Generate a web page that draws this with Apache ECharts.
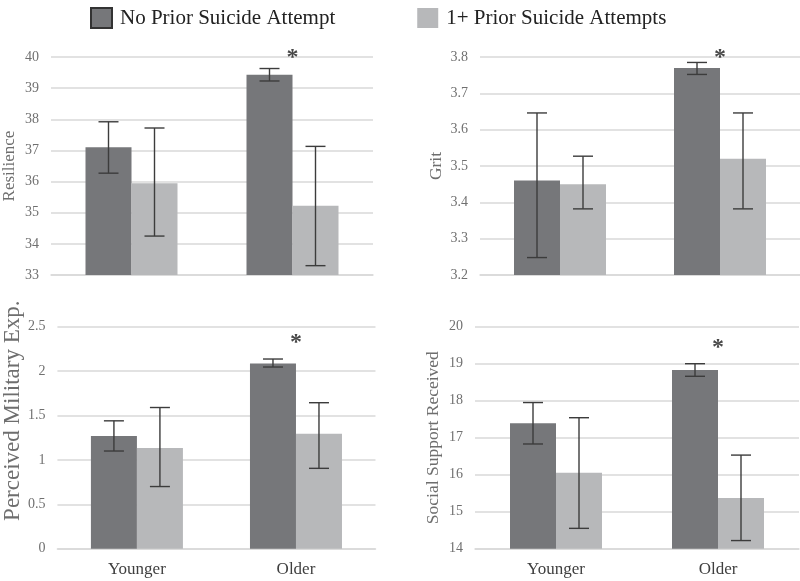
<!DOCTYPE html>
<html>
<head>
<meta charset="utf-8">
<script src="https://cdn.jsdelivr.net/npm/echarts@6/dist/echarts.min.js"></script>
<style>
html,body{margin:0;padding:0;background:#fff;}
#chart{width:800px;height:581px;}
</style>
</head>
<body>
<div id="chart"></div>
<script>
// ---- data ----
const categories = ['Younger', 'Older'];
const seriesNames = ['No Prior Suicide Attempt', '1+ Prior Suicide Attempts'];

const panelTitles = ['Resilience', 'Grit', 'Perceived Military Exp.', 'Social Support Received'];

// means [Younger, Older]
const resilienceNoPrior = [37.1, 39.43];
const resiliencePrior = [35.95, 35.22];
const gritNoPrior = [3.46, 3.77];
const gritPrior = [3.45, 3.52];
const militaryNoPrior = [1.27, 2.085];
const militaryPrior = [1.135, 1.295];
const supportNoPrior = [17.39, 18.83];
const supportPrior = [16.05, 15.37];

// error bar [low, high] for [Younger, Older]
const resilienceNoPriorErr = [[36.27, 37.92], [39.23, 39.63]];
const resiliencePriorErr = [[34.25, 37.72], [33.3, 37.13]];
const gritNoPriorErr = [[3.248, 3.646], [3.752, 3.785]];
const gritPriorErr = [[3.382, 3.527], [3.382, 3.646]];
const militaryNoPriorErr = [[1.10, 1.44], [2.046, 2.136]];
const militaryPriorErr = [[0.70, 1.59], [0.905, 1.644]];
const supportNoPriorErr = [[16.83, 17.95], [18.66, 19.0]];
const supportPriorErr = [[14.55, 17.54], [14.22, 16.53]];

// significance marker position [category, value]
const resilienceStar = [1, 40.15];
const gritStar = [1, 3.812];
const militaryStar = [1, 2.38];
const supportStar = [1, 19.56];

// axis ranges [min, max, interval]
const resilienceAxis = [33, 40, 1];
const gritAxis = [3.2, 3.8, 0.1];
const militaryAxis = [0, 2.5, 0.5];
const supportAxis = [14, 20, 1];

// ---- styles ----
const DARK = '#76777a';
const LIGHT = '#b7b8ba';
const GRIDLINE = '#d9d9d9';
const SERIF = '"Liberation Serif", "DejaVu Serif", serif';
const BAR_W = 46;

const panels = [
  {name: panelTitles[0], a: resilienceNoPrior, b: resiliencePrior, ea: resilienceNoPriorErr, eb: resiliencePriorErr, star: resilienceStar, axis: resilienceAxis,
   grid: {left: 50, top: 57, width: 323, height: 218}, nameGap: 33, nameSize: 17, namePad: [0, 0, 0, 0], showX: false, dec: 0},
  {name: panelTitles[1], a: gritNoPrior, b: gritPrior, ea: gritNoPriorErr, eb: gritPriorErr, star: gritStar, axis: gritAxis,
   grid: {left: 480, top: 57, width: 320, height: 218}, nameGap: 35, nameSize: 17.5, namePad: [0, 0, 0, 0], showX: false, dec: 1},
  {name: panelTitles[2], a: militaryNoPrior, b: militaryPrior, ea: militaryNoPriorErr, eb: militaryPriorErr, star: militaryStar, axis: militaryAxis,
   grid: {left: 53.5, top: 326.7, width: 322, height: 222}, nameGap: 32, nameSize: 23, namePad: [0, 0, 0, 54], showX: true, dec: -1},
  {name: panelTitles[3], a: supportNoPrior, b: supportPrior, ea: supportNoPriorErr, eb: supportPriorErr, star: supportStar, axis: supportAxis,
   grid: {left: 475, top: 326.7, width: 324, height: 222}, nameGap: 33, nameSize: 17.5, namePad: [0, 0, 0, 0], showX: true, dec: 0}
];

function errRender(offset) {
  return function (params, api) {
    const x = api.value(0);
    const lo = api.coord([x, api.value(1)]);
    const hi = api.coord([x, api.value(2)]);
    const cx = lo[0] + offset;
    const cap = 10;
    const style = {stroke: '#3c3c3c', lineWidth: 1.4};
    return {
      type: 'group',
      children: [
        {type: 'line', shape: {x1: cx, y1: lo[1], x2: cx, y2: hi[1]}, style: style},
        {type: 'line', shape: {x1: cx - cap, y1: lo[1], x2: cx + cap, y2: lo[1]}, style: style},
        {type: 'line', shape: {x1: cx - cap, y1: hi[1], x2: cx + cap, y2: hi[1]}, style: style}
      ]
    };
  };
}

const grids = [], xAxes = [], yAxes = [], series = [];
panels.forEach((p, i) => {
  grids.push(Object.assign({containLabel: false}, p.grid));
  xAxes.push({
    type: 'category', gridIndex: i, data: categories,
    axisLine: {show: true, lineStyle: {color: GRIDLINE, width: 1.5}},
    axisTick: {show: false},
    axisLabel: {show: p.showX, color: '#3f3f3f', fontFamily: SERIF, fontSize: 17, margin: 12}
  });
  yAxes.push({
    type: 'value', gridIndex: i, min: p.axis[0], max: p.axis[1], interval: p.axis[2],
    name: p.name, nameLocation: 'middle', nameRotate: 90, nameGap: p.nameGap,
    nameTextStyle: {color: '#6e6e6e', fontFamily: SERIF, fontSize: p.nameSize, padding: p.namePad},
    axisLine: {show: false}, axisTick: {show: false},
    axisLabel: {color: '#707070', fontFamily: SERIF, fontSize: 14, margin: 12,
      formatter: v => p.dec >= 0 ? Number(v).toFixed(p.dec) : String(+Number(v).toFixed(2))},
    splitLine: {lineStyle: {color: GRIDLINE, width: 1.5}}
  });
  series.push({
    type: 'bar', name: seriesNames[0], xAxisIndex: i, yAxisIndex: i, data: p.a,
    barWidth: BAR_W, barGap: '0%', itemStyle: {color: DARK}, silent: true
  });
  series.push({
    type: 'bar', name: seriesNames[1], xAxisIndex: i, yAxisIndex: i, data: p.b,
    barWidth: BAR_W, barGap: '0%', itemStyle: {color: LIGHT}, silent: true
  });
  series.push({
    type: 'custom', xAxisIndex: i, yAxisIndex: i, renderItem: errRender(-BAR_W / 2),
    data: p.ea.map((e, k) => [k, e[0], e[1]]), encode: {x: 0, y: [1, 2]}, z: 5, silent: true
  });
  series.push({
    type: 'custom', xAxisIndex: i, yAxisIndex: i, renderItem: errRender(BAR_W / 2),
    data: p.eb.map((e, k) => [k, e[0], e[1]]), encode: {x: 0, y: [1, 2]}, z: 5, silent: true
  });
  series.push({
    type: 'scatter', xAxisIndex: i, yAxisIndex: i, data: [p.star], clip: false,
    symbolSize: 1, itemStyle: {color: 'rgba(0,0,0,0)'}, silent: true,
    label: {show: true, position: 'inside', formatter: '*', color: '#1a1a1a',
      fontFamily: SERIF, fontSize: 24, fontWeight: 'bold', offset: [0, 5]}
  });
});

const chart = echarts.init(document.getElementById('chart'), null, {renderer: 'canvas'});
chart.setOption({
  animation: false,
  backgroundColor: '#ffffff',
  legend: {
    left: 85, top: 2, itemWidth: 21, itemHeight: 20, itemGap: 82, icon: 'rect',
    textStyle: {color: '#222', fontFamily: SERIF, fontSize: 21, padding: [0, 0, 0, 3]},
    data: [
      {name: seriesNames[0], itemStyle: {color: DARK, borderColor: '#333', borderWidth: 2}},
      {name: seriesNames[1], itemStyle: {color: LIGHT}}
    ],
    selectedMode: false
  },
  grid: grids, xAxis: xAxes, yAxis: yAxes, series: series
});
</script>
</body>
</html>
